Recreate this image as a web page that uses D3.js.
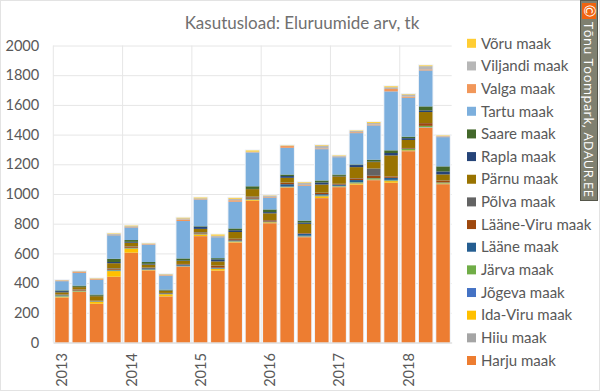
<!DOCTYPE html>
<html>
<head>
<meta charset="utf-8">
<script src="https://cdn.jsdelivr.net/npm/d3@7"></script>
<style>
    html, body { margin: 0; padding: 0; background: #fff; }
    svg { display: block; }
    text { font-family: Lato, "Open Sans", sans-serif; fill: #595959; }
</style>
</head>
<body>
<div id="chart"></div>
<script>
// one bar per quarter, only the first of each year gets a label
var periods = ["2013a","2013b","2013c","2013d","2014a","2014b","2014c","2014d","2015a","2015b","2015c","2015d",
    "2016a","2016b","2016c","2016d","2017a","2017b","2017c","2017d","2018a","2018b","2018c"]
var tickYears = ["2013","2014","2015","2016","2017","2018"]
var yTicks = [0,200,400,600,800,1000,1200,1400,1600,1800,2000]

var harju    = [303,340,260,442,604,485,310,510,716,483,673,954,803,1042,709,972,1046,1062,1093,1075,1288,1446,1066]
var hiiu     = [1,1,1,1,1,1,1,1,1,1,1,1,1,1,1,1,1,1,1,1,1,3,1]
var idaViru  = [4,2,14,38,27,3,14,2,11,11,5,6,5,3,3,12,3,9,3,11,5,1,4]
var jogeva   = [2,1,1,2,1,1,1,2,2,3,2,2,1,2,3,3,2,4,1,4,1,1,1]
var jarva    = [6,4,1,3,3,2,1,2,2,2,2,2,2,2,3,3,3,4,8,4,8,7,5]
var laane    = [3,2,2,4,2,8,4,6,2,4,5,4,3,16,12,8,8,14,1,14,2,1,1]
var laaneViru = [3,6,2,6,8,3,2,4,5,12,8,8,8,9,4,8,4,11,16,9,4,18,13]
var polva    = [2,2,1,4,2,2,1,2,4,2,3,6,2,2,2,2,2,2,49,1,1,1,1]
var parnu    = [14,15,30,34,24,20,15,20,22,28,45,50,45,32,62,55,50,74,43,141,54,74,40]
var rapla    = [8,2,3,8,6,5,2,4,14,14,12,1,8,12,8,14,3,14,4,16,12,11,20]
var saare    = [5,8,8,22,12,12,5,13,4,8,12,18,18,10,14,13,9,4,12,18,10,27,34]
var tartu    = [62,85,100,158,85,115,93,252,180,141,180,227,80,180,235,211,117,211,231,397,262,242,197]
var valga    = [4,6,5,3,3,4,4,10,3,2,10,2,5,12,5,5,3,6,6,16,8,7,4]
var viljandi = [2,5,2,6,5,4,5,8,5,8,10,4,7,2,14,18,5,8,10,12,14,22,4]
var voru     = [1,1,2,3,4,2,2,4,5,8,6,8,2,2,4,4,3,3,6,6,3,5,3]

var seriesNames = ["Harju maak","Hiiu maak","Ida-Viru maak","Jõgeva maak","Järva maak","Lääne maak","Lääne-Viru maak",
    "Põlva maak","Pärnu maak","Rapla maak","Saare maak","Tartu maak","Valga maak","Viljandi maak","Võru maak"]
var seriesValues = [harju,hiiu,idaViru,jogeva,jarva,laane,laaneViru,polva,parnu,rapla,saare,tartu,valga,viljandi,voru]
var seriesColors = ["#ED7D31","#A5A5A5","#FFC000","#4472C4","#70AD47","#255E91","#9E480E",
    "#636363","#997300","#264478","#43682B","#7CAFDD","#F1975A","#B7B7B7","#FFCD33"]

var title = "Kasutusload: Eluruumide arv, tk"
var credit = "Tõnu Toompark, ADAUR.EE"

var width = 600, height = 392

var svg = d3.select("#chart").append("svg")
    .attr("width", width)
    .attr("height", height)

// thin frame round the whole picture
svg.append("rect")
    .attr("x", 0.5).attr("y", 0.5)
    .attr("width", width - 1).attr("height", height - 2)
    .attr("fill", "#fff")
    .attr("stroke", "#e3e3e3")

var x = d3.scaleBand()
    .domain(periods)
    .range([53.3, 451.7])
    .paddingInner(0.22)
    .paddingOuter(0.11)

var y = d3.scaleLinear()
    .domain([0, 2000])
    .range([342.5, 45.5])

var rows = periods.map(function(p, i){
    var row = {period: p}
    seriesNames.forEach(function(name, j){
        row[name] = seriesValues[j][i]
    })
    return row
})
var stacked = d3.stack().keys(seriesNames)(rows)

// horizontal grid + y labels
var yAxis = svg.append("g")
    .attr("transform", "translate(53.3,0)")
    .call(d3.axisLeft(y).tickValues(yTicks).tickSize(-398.4).tickPadding(14).tickFormat(d3.format("d")))
yAxis.select(".domain").remove()
yAxis.selectAll("line").attr("stroke", "#e6e6e6").attr("stroke-width", 1)
yAxis.selectAll("text").attr("font-size", 14.6).style("fill", "#595959")

// vertical grid at the start of each year
var yearStarts = tickYears.map(function(t){ return t + "a" })
svg.append("g").selectAll("line")
    .data(yearStarts)
    .join("line")
    .attr("x1", function(d){ return x(d) - x.step() * x.paddingOuter() })
    .attr("x2", function(d){ return x(d) - x.step() * x.paddingOuter() })
    .attr("y1", y(2000))
    .attr("y2", y(0))
    .attr("stroke", "#e6e6e6")

// pale halo behind each full bar, the grid stops short of the bars
svg.append("g").selectAll("rect")
    .data(stacked[stacked.length - 1])
    .join("rect")
    .attr("x", function(d){ return x(d.data.period) - 1 })
    .attr("width", x.bandwidth() + 2)
    .attr("y", function(d){ return y(d[1]) - 1 })
    .attr("height", function(d){ return y(0) - y(d[1]) + 1 })
    .attr("fill", "#eef2f7")

svg.append("g").selectAll("g")
    .data(stacked)
    .join("g")
    .attr("fill", function(d, i){ return seriesColors[i] })
    .selectAll("rect")
    .data(function(d){ return d })
    .join("rect")
    .attr("x", function(d){ return x(d.data.period) })
    .attr("width", x.bandwidth())
    .attr("y", function(d){ return y(d[1]) })
    .attr("height", function(d){ return y(d[0]) - y(d[1]) })

// x labels, rotated, sitting under first bar of the year
var xAxis = svg.append("g")
    .attr("transform", "translate(0,342.5)")
    .call(d3.axisBottom(x).tickValues(yearStarts).tickSize(0).tickFormat(function(d){ return d.slice(0, 4) }))
xAxis.select(".domain").attr("stroke", "#d9d9d9")
xAxis.selectAll("text")
    .attr("font-size", 14.6)
    .style("fill", "#595959")
    .attr("text-anchor", "end")
    .attr("transform", "translate(0,10.5) rotate(-90)")
    .attr("x", 0)
    .attr("y", 0)
    .attr("dy", "0.36em")

svg.append("text")
    .attr("x", 302)
    .attr("y", 29)
    .attr("text-anchor", "middle")
    .attr("font-size", 17)
    .style("fill", "#707070")
    .text(title)

// legend, top to bottom is reverse of the stack
var legendNames = seriesNames.slice().reverse()
var legendY = d3.scalePoint().domain(legendNames).range([43.3, 360.5])
var colorOf = d3.scaleOrdinal().domain(seriesNames).range(seriesColors)

var legend = svg.append("g").selectAll("g")
    .data(legendNames)
    .join("g")
    .attr("transform", function(d){ return "translate(467," + legendY(d) + ")" })
legend.append("rect")
    .attr("y", -4.5)
    .attr("width", 9)
    .attr("height", 9)
    .attr("fill", function(d){ return colorOf(d) })
legend.append("text")
    .attr("x", 14)
    .attr("dy", "0.35em")
    .attr("font-size", 15)
    .text(function(d){ return d })

// credit strip on the right
svg.append("rect")
    .attr("x", 580.5).attr("y", 0.5)
    .attr("width", 17).attr("height", 200)
    .attr("fill", "#7f8070")
    .attr("stroke", "#55564a")
svg.append("rect")
    .attr("x", 582).attr("y", 3)
    .attr("width", 14).attr("height", 16)
    .attr("fill", "#f0640f")
svg.append("text")
    .attr("transform", "translate(589,11) rotate(90)")
    .attr("text-anchor", "middle")
    .attr("dy", "0.35em")
    .attr("font-size", 15)
    .style("fill", "#fff")
    .text("©")
svg.append("text")
    .attr("transform", "translate(589,22) rotate(90)")
    .attr("dy", "0.35em")
    .attr("font-size", 13)
    .attr("textLength", 175)
    .style("font-family", "'Open Sans', sans-serif")
    .style("fill", "#fff")
    .text(credit)
</script>
</body>
</html>
